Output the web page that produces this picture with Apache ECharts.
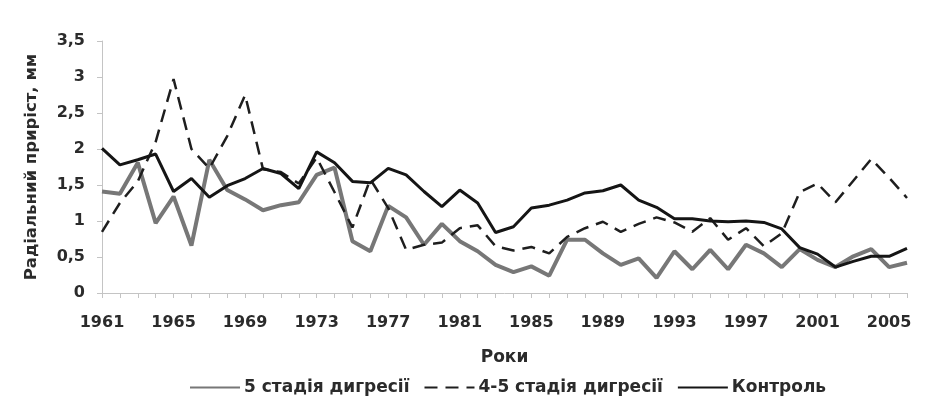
<!DOCTYPE html>
<html>
<head>
<meta charset="utf-8">
<script src="https://cdn.jsdelivr.net/npm/echarts@6/dist/echarts.min.js"></script>
<style>
  html, body { margin: 0; padding: 0; background: #ffffff; }
  #chart { width: 943px; height: 403px; }
</style>
</head>
<body>
<div id="chart"></div>
<script>
// Years of the tree-ring record
const years = [];
for (let y = 1961; y <= 2006; y++) years.push(String(y));

// Radial increment, mm — stage 5 of digression
const stage5 = [
  1.41, 1.38, 1.81, 0.97, 1.34, 0.66, 1.85, 1.43, 1.30, 1.15,
  1.22, 1.26, 1.64, 1.74, 0.72, 0.58, 1.21, 1.05, 0.67, 0.96,
  0.72, 0.58, 0.39, 0.29, 0.37, 0.24, 0.74, 0.74, 0.55, 0.39,
  0.48, 0.21, 0.58, 0.33, 0.60, 0.33, 0.67, 0.55, 0.36, 0.61,
  0.46, 0.36, 0.51, 0.61, 0.36, 0.42
];

// Radial increment, mm — stage 4-5 of digression
const stage45 = [
  0.85, 1.25, 1.55, 2.10, 2.97, 2.00, 1.73, 2.18, 2.75, 1.72,
  1.68, 1.52, 1.88, 1.40, 0.91, 1.58, 1.18, 0.60, 0.67, 0.70,
  0.90, 0.94, 0.65, 0.59, 0.64, 0.55, 0.78, 0.90, 0.99, 0.85,
  0.96, 1.05, 0.98, 0.85, 1.04, 0.74, 0.90, 0.65, 0.83, 1.40,
  1.52, 1.26, 1.56, 1.86, 1.60, 1.32
];

// Radial increment, mm — control plot
const control = [
  2.01, 1.78, 1.85, 1.93, 1.41, 1.59, 1.33, 1.49, 1.59, 1.73,
  1.66, 1.45, 1.96, 1.81, 1.55, 1.53, 1.73, 1.64, 1.41, 1.20,
  1.43, 1.25, 0.84, 0.92, 1.18, 1.22, 1.29, 1.39, 1.42, 1.50,
  1.29, 1.19, 1.03, 1.03, 1.00, 0.99, 1.00, 0.98, 0.89, 0.63,
  0.54, 0.36, 0.44, 0.51, 0.51, 0.62
];

const seriesNames = ['5 стадія дигресії', '4-5 стадія дигресії', 'Контроль'];

const FONT = '"DejaVu Sans", "Liberation Sans", sans-serif';
const TEXT = '#2b2b2b';
const AXIS = '#c4c4c4';

const chart = echarts.init(document.getElementById('chart'), null, { renderer: 'canvas' });

chart.setOption({
  animation: false,
  backgroundColor: '#ffffff',
  grid: { left: 102, right: 36, top: 41, bottom: 110, containLabel: false },
  legend: {
    data: seriesNames,
    top: 374,
    left: 184,
    itemWidth: 50,
    itemHeight: 10,
    itemGap: 14,
    itemStyle: { opacity: 0 },
    textStyle: { fontFamily: FONT, fontWeight: 'bold', fontSize: 17, color: TEXT, padding: [0, 0, 0, -1] }
  },
  xAxis: {
    type: 'category',
    data: years,
    boundaryGap: false,
    name: 'Роки',
    nameLocation: 'middle',
    nameGap: 56,
    nameTextStyle: { fontFamily: FONT, fontWeight: 'bold', fontSize: 17, color: TEXT },
    axisLine: { lineStyle: { color: AXIS, width: 1 } },
    axisTick: { show: true, interval: 0, length: 5, lineStyle: { color: AXIS } },
    axisLabel: {
      interval: 3,
      margin: 22,
      fontFamily: FONT, fontWeight: 'bold', fontSize: 16, color: TEXT
    },
    splitLine: { show: false }
  },
  yAxis: {
    type: 'value',
    min: 0,
    max: 3.5,
    interval: 0.5,
    name: 'Радіальний приріст, мм',
    nameLocation: 'middle',
    nameRotate: 90,
    nameGap: 62,
    nameTextStyle: { fontFamily: FONT, fontWeight: 'bold', fontSize: 16.5, color: TEXT },
    axisLine: { show: true, lineStyle: { color: AXIS, width: 1 } },
    axisTick: { show: true, length: 5, lineStyle: { color: AXIS } },
    axisLabel: {
      margin: 17,
      fontFamily: FONT, fontWeight: 'bold', fontSize: 16, color: TEXT,
      formatter: v => String(v).replace('.', ',')
    },
    splitLine: { show: false }
  },
  series: [
    {
      name: seriesNames[0],
      type: 'line',
      data: stage5,
      symbol: 'none',
      lineStyle: { color: '#777777', width: 4 },
      itemStyle: { color: '#777777' }
    },
    {
      name: seriesNames[1],
      type: 'line',
      data: stage45,
      symbol: 'none',
      lineStyle: { color: '#1e1e1e', width: 2.5, type: [13, 8] },
      itemStyle: { color: '#1e1e1e' }
    },
    {
      name: seriesNames[2],
      type: 'line',
      data: control,
      symbol: 'none',
      lineStyle: { color: '#151515', width: 3 },
      itemStyle: { color: '#151515' }
    }
  ]
});
</script>
</body>
</html>
